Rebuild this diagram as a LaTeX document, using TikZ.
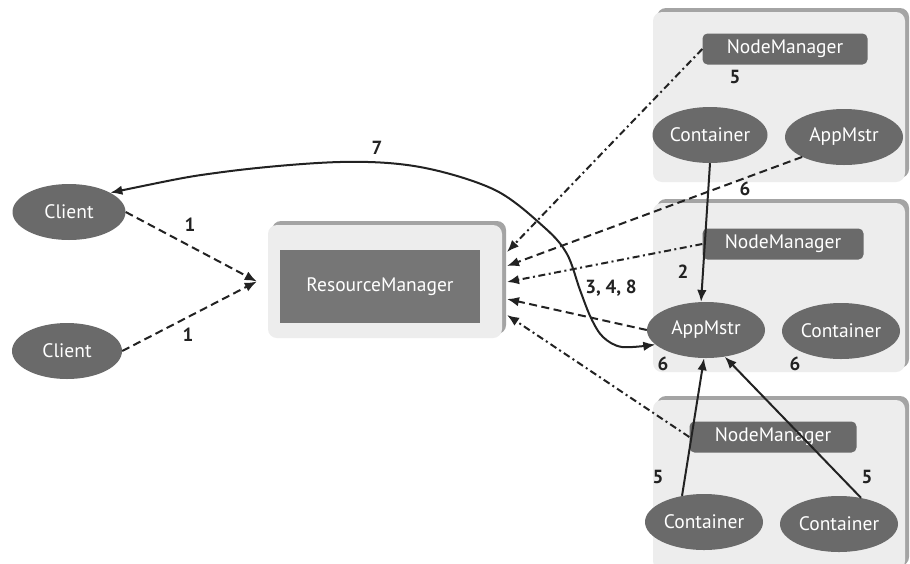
\documentclass[tikz,border=0pt]{standalone}
\usepackage{fontspec}
\setmainfont{PT Sans}
\usetikzlibrary{arrows.meta,shadows,shapes.geometric}

\definecolor{shapegray}{HTML}{6A6A6A}
\definecolor{rmgray}{HTML}{767676}
\definecolor{panelfill}{HTML}{EDEDED}
\definecolor{paneledge}{HTML}{A4A4A4}
\definecolor{linegray}{HTML}{222222}

\tikzset{
  >={Latex[length=12pt, width=9.5pt]},
  panel/.style={fill=panelfill, rounded corners=9pt, inner sep=0pt,
    drop shadow={shadow xshift=4pt, shadow yshift=4pt, fill=paneledge, opacity=1}},
  proc/.style={ellipse, fill=shapegray, text=white, inner sep=0pt,
    minimum width=118pt, minimum height=56pt, font=\fontsize{19.5}{22}\selectfont},
  mgr/.style={rectangle, rounded corners=5pt, fill=shapegray, text=white, inner sep=0pt,
    minimum height=31pt, font=\fontsize{19.5}{22}\selectfont},
  lbl/.style={inner sep=0pt, text=linegray, font=\bfseries\fontsize{19}{22}\selectfont},
  link/.style={draw=linegray, line width=2pt, ->},
  dashlink/.style={link, dash pattern=on 8pt off 4.5pt},
  dotlink/.style={link, dash pattern=on 7pt off 3.5pt on 2pt off 3.5pt},
}

\begin{document}
\begin{tikzpicture}[x=1pt, y=-1pt]
\useasboundingbox[fill=white] (0,0) rectangle (910,563);

% cluster panels
\node (p1) [panel, minimum width=252pt, minimum height=170pt] at (779,97) {};
\node (p2) [panel, minimum width=252pt, minimum height=169pt] at (779,287.5) {};
\node (p3) [panel, minimum width=252pt, minimum height=170pt] at (779,485) {};
\node (rmp) [panel, minimum width=234pt, minimum height=113pt] at (385,281.5) {};

% resource manager
\node (rm) [rectangle, fill=rmgray, text=white, inner sep=0pt,
  minimum width=200pt, minimum height=73pt, font=\fontsize{19.5}{22}\selectfont]
  at (380,286.5) {ResourceManager};

% clients
\node (c1) [proc, minimum width=113pt] at (69,212) {Client};
\node (c2) [proc, minimum width=110pt] at (67,351) {Client};

% node managers
\node (nm1) [mgr, minimum width=165pt] at (785,49) {NodeManager};
\node (nm2) [mgr, minimum width=161pt] at (783,244) {NodeManager};
\node (nm3) [mgr, minimum width=167pt] at (773,437) {NodeManager};

% containers and application masters
\node (ct1) [proc, minimum width=115pt] at (710,135) {Container};
\node (am1) [proc] at (844,137) {AppMstr};
\node (am2) [proc] at (706,330) {AppMstr};
\node (ct2) [proc] at (841,331) {Container};
\node (ct3a) [proc] at (704,522) {Container};
\node (ct3b) [proc] at (839,524) {Container};

% arrival points on the resource manager panel
\coordinate (rmin) at ([xshift=-11pt]rmp.west);
\coordinate (rma) at (507,252);
\coordinate (rmb) at (507,266);
\coordinate (rmc) at (507,282);
\coordinate (rmd) at (507,299);
\coordinate (rme) at (507,315);

% client submissions
\draw[dashlink] (c1.east) -- (rmin);
\draw[dashlink] (c2.east) -- (rmin);

% heartbeats and requests towards the resource manager
\draw[dotlink] (nm1.west) -- (rma);
\draw[dashlink] (am1.south west) -- (rmb);
\draw[dotlink] (nm2.west) -- (rmc);
\draw[dashlink] (am2.west) -- (rmd);
\draw[dotlink] (nm3.west) -- (rme);

% client <-> application master
\draw[draw=linegray, line width=2pt, <->]
  plot[smooth, tension=0.55] coordinates {(c1.25) (223,172) (340,162) (420,167) (495,190)
    (545,228) (567,254) (580,290) (591,318) (603,337) (622,347) (am2.196)};

% container traffic
\draw[link] (ct1.south) -- (am2.100);
\draw[link] (ct3a.130) -- (am2.266);
\draw[link] (ct3b.50) -- (am2.-55);

% step labels
\node (l1a) [lbl] at (190,225) {1};
\node (l1b) [lbl] at (188,335) {1};
\node (l7) [lbl] at (377,148) {7};
\node (l348) [lbl] at (611,288) {3, 4, 8};
\node (l5a) [lbl] at (735,77) {5};
\node (l6a) [lbl] at (745,189) {6};
\node (l2) [lbl] at (683,272) {2};
\node (l6b) [lbl] at (663,364) {6};
\node (l6c) [lbl] at (795,364) {6};
\node (l5b) [lbl] at (658,477) {5};
\node (l5c) [lbl] at (867,477) {5};
\end{tikzpicture}
\end{document}
